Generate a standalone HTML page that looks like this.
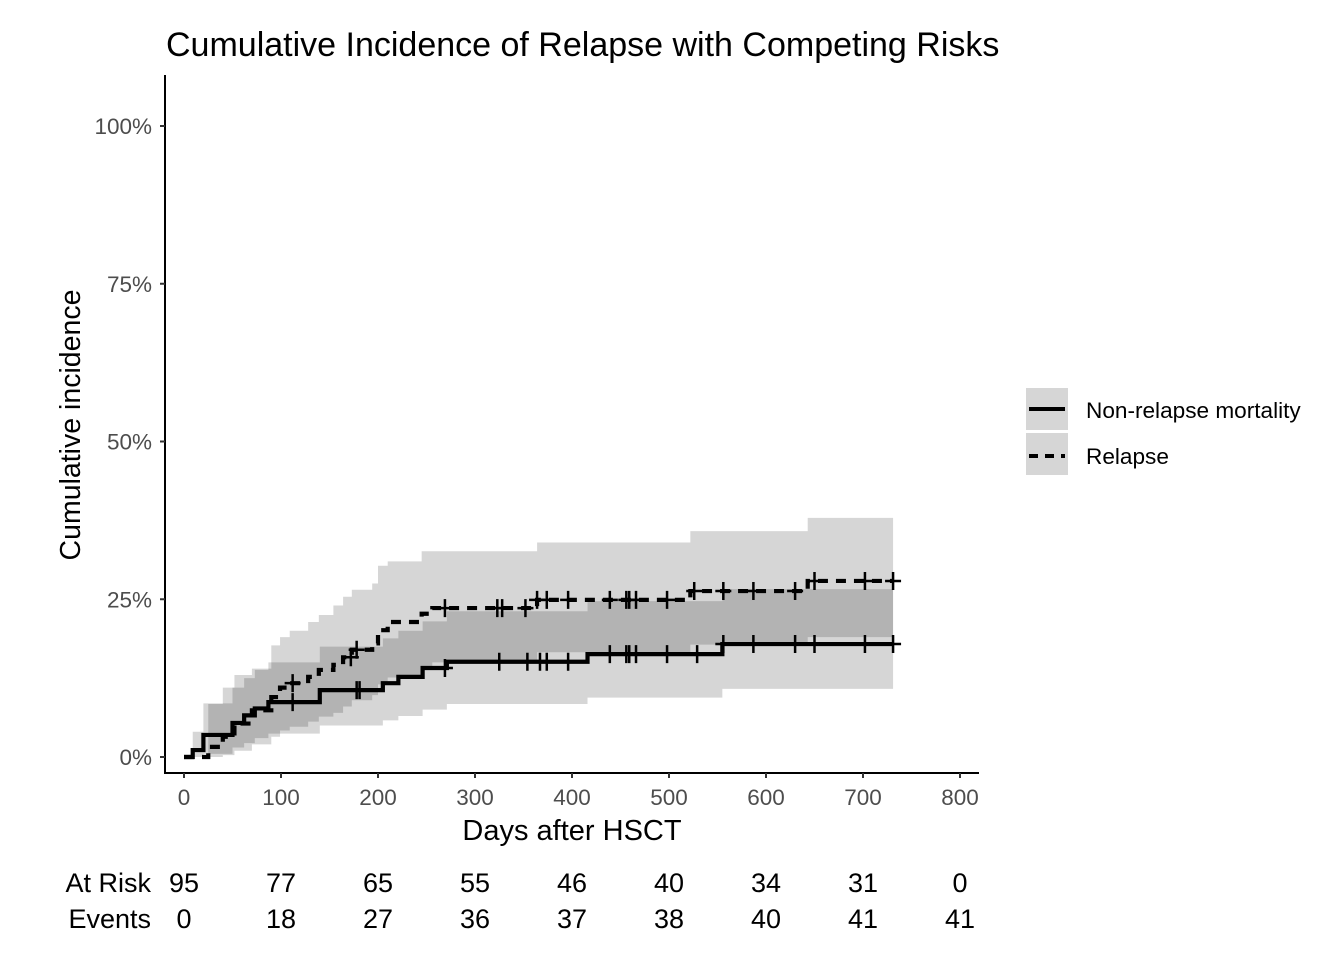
<!DOCTYPE html>
<html><head><meta charset="utf-8"><style>
body{margin:0;background:#fff}
svg{display:block;font-family:"Liberation Sans",Arial,sans-serif}
</style></head><body>
<svg id="c" width="1344" height="960" xmlns="http://www.w3.org/2000/svg">
<text x="166" y="56" font-size="34" fill="#000">Cumulative Incidence of Relapse with Competing Risks</text>
<g id="bands"></g><g id="lines"></g>
<g id="axes"></g>
<text transform="translate(80,425) rotate(-90)" text-anchor="middle" font-size="28.5">Cumulative incidence</text>
<text x="572" y="840" text-anchor="middle" font-size="29">Days after HSCT</text>
<g>
<rect x="1026" y="388" width="42" height="42" fill="#d6d6d6"/>
<line x1="1029" y1="409" x2="1065" y2="409" stroke="#000" stroke-width="4"/>
<text x="1086" y="418" font-size="22.6">Non-relapse mortality</text>
<rect x="1026" y="433" width="42" height="42" fill="#d6d6d6"/>
<line x1="1029" y1="456" x2="1065" y2="456" stroke="#000" stroke-width="4" stroke-dasharray="9,7"/>
<text x="1086" y="464" font-size="22.6">Relapse</text>
</g>
<g id="risk" font-size="27"></g>
</svg>
<script>
const xTicks=[0,100,200,300,400,500,600,700,800];
const yTicks=[0,25,50,75,100];
const atRisk=[95,77,65,55,46,40,34,31,0];
const events=[0,18,27,36,37,38,40,41,41];
const endDay=731;
const nrmT=[0,9,20,50,62,73,87,140,205,221,246,271,416,555];
const nrmV=[0,1.1,3.5,5.4,6.6,7.7,8.7,10.6,11.7,12.7,14.1,15.1,16.3,17.9];
const nrmLo=[0,0,0.5,1.5,2.2,3,3.7,5,5.8,6.5,7.5,8.4,9.4,10.8];
const nrmHi=[0,4,8.5,11,12.5,13.8,15,17.5,18.8,20,21.5,23.1,24.7,26.6];
const relT=[0,25,40,52,70,90,99,109,128,139,154,164,173,194,200,210,245,256,364,522,643];
const relV=[0,1.6,3.2,5.3,7.4,9.5,11,11.7,12.7,13.8,14.6,15.8,17,18,20.1,21.4,22.7,23.6,24.9,26.3,27.9];
const relLo=[0,0,0.3,1,2,3.2,4.2,4.8,5.6,6.4,7,8,9,9.8,11.5,12.6,14,15,16.6,17.8,19];
const relHi=[0,8.4,11,13,14,17.7,19,20,21.4,22.5,24,25.4,26.5,27.5,30.3,31,32.6,32.6,34,35.8,37.9];
const nrmCens=[112,178,181,269,325,354,367,374,396,439,456,459,466,498,529,556,587,630,650,702,731];
const relCens=[112,172,178,269,323,328,352,364,374,396,439,456,459,466,498,526,556,587,630,650,702,731];
const X=d=>184+d*0.97, Y=p=>757-p*6.31;
const NS='http://www.w3.org/2000/svg';
function mk(tag,attrs,parent){const e=document.createElementNS(NS,tag);for(const k in attrs)e.setAttribute(k,attrs[k]);parent.appendChild(e);return e;}
function stepPath(T,V){let d='M'+X(T[0])+','+Y(V[0]);for(let i=1;i<T.length;i++){d+='H'+X(T[i])+'V'+Y(V[i]);}d+='H'+X(endDay);return d;}
function band(T,L,H){let d='M'+X(T[0])+','+Y(H[0]);for(let i=1;i<T.length;i++)d+='H'+X(T[i])+'V'+Y(H[i]);d+='H'+X(endDay)+'V'+Y(L[L.length-1]);for(let i=T.length-1;i>0;i--)d+='H'+X(T[i])+'V'+Y(L[i-1]);d+='H'+X(T[0])+'Z';return d;}
function valAt(T,V,t){let v=V[0];for(let i=0;i<T.length;i++)if(T[i]<=t)v=V[i];return v;}
const bands=document.getElementById('bands'),lines=document.getElementById('lines'),axes=document.getElementById('axes'),risk=document.getElementById('risk');
let b1=mk('path',{d:band(nrmT,nrmLo,nrmHi),fill:'#000','fill-opacity':0.16},bands);


let b2=mk('path',{d:band(relT,relLo,relHi),fill:'#000','fill-opacity':0.16},bands);


let l1=mk('path',{d:stepPath(nrmT,nrmV),fill:'none',stroke:'#000','stroke-width':4.2},lines);


let l2=mk('path',{d:stepPath(relT,relV),fill:'none',stroke:'#000','stroke-width':4.2,'stroke-dasharray':'10,8'},lines);


function cens(T,V,C,name){C.forEach(t=>{const x=X(t),y=Y(valAt(T,V,t));const g=mk('path',{d:`M${x-8},${y}H${x+8}M${x},${y-9}V${y+9}`,stroke:'#000','stroke-width':2.5},lines);

});}
cens(nrmT,nrmV,nrmCens,'nrm-censor-mark');
cens(relT,relV,relCens,'relapse-censor-mark');
const ax=mk('path',{d:'M165,75V773H979',fill:'none',stroke:'#000','stroke-width':2},axes);


xTicks.forEach((t,i)=>{mk('line',{x1:X(t),x2:X(t),y1:773,y2:778,stroke:'#333','stroke-width':2},axes);
const tx=mk('text',{x:X(t),y:805,'text-anchor':'middle','font-size':22.5,fill:'#4d4d4d'},axes);tx.textContent=t;


const r=mk('text',{x:X(t),y:892,'text-anchor':'middle'},risk);r.textContent=atRisk[i];


const e=mk('text',{x:X(t),y:928,'text-anchor':'middle'},risk);e.textContent=events[i];

});
yTicks.forEach(p=>{mk('line',{x1:160,x2:165,y1:Y(p),y2:Y(p),stroke:'#333','stroke-width':2},axes);
const tx=mk('text',{x:152,y:Y(p)+8,'text-anchor':'end','font-size':22.5,fill:'#4d4d4d'},axes);tx.textContent=p+'%';

});
const a=mk('text',{x:151,y:892,'text-anchor':'end'},risk);a.textContent='At Risk';


const ev=mk('text',{x:151,y:928,'text-anchor':'end'},risk);ev.textContent='Events';


</script>
</body></html>
